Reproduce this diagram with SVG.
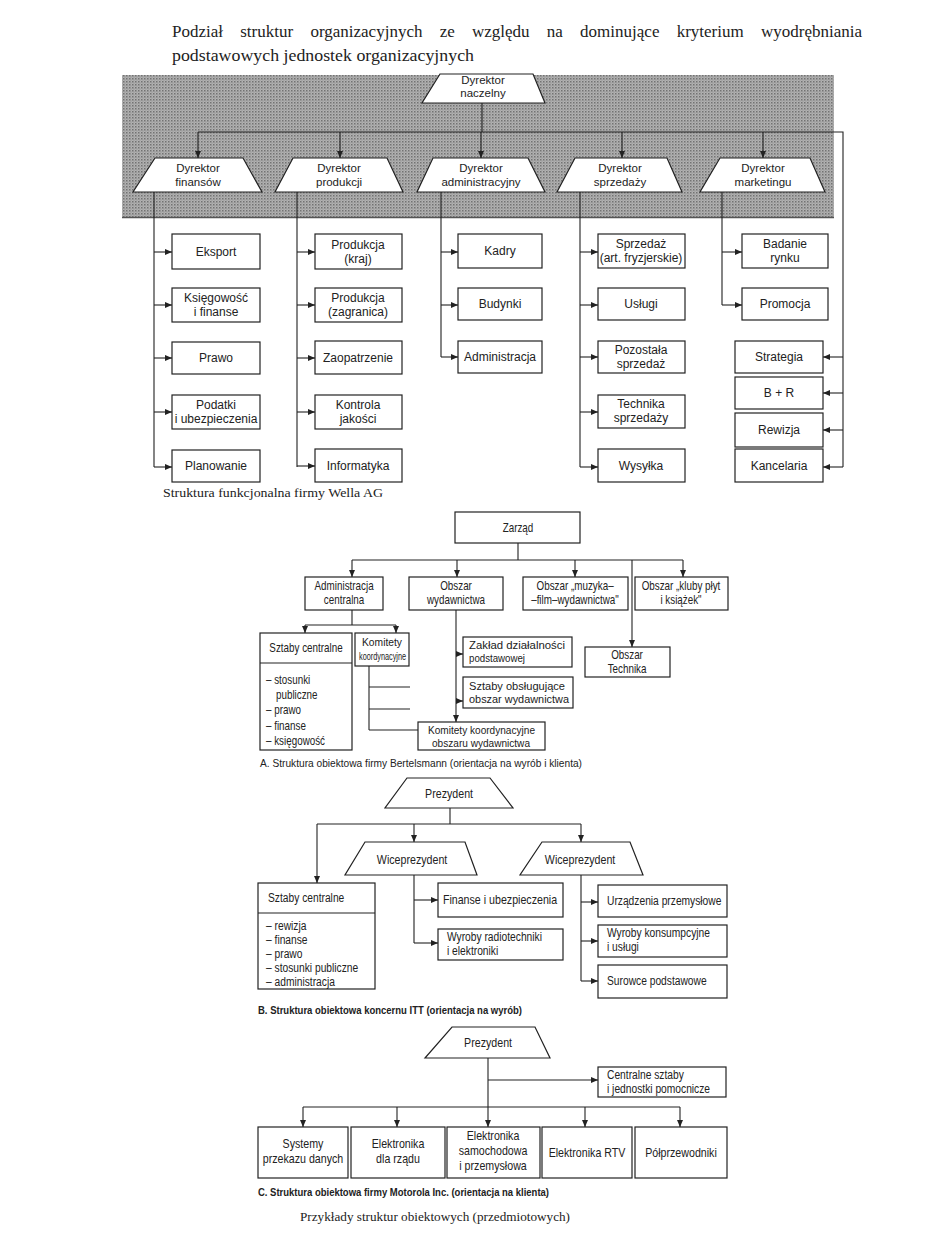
<svg xmlns="http://www.w3.org/2000/svg" width="935" height="1256" viewBox="0 0 935 1256">
<defs>
<pattern id="ht" width="3" height="3" patternUnits="userSpaceOnUse">
<rect width="3" height="3" fill="#b2b2b2"/>
<rect x="0" y="0" width="1.5" height="1.5" fill="#727272"/>
<rect x="1.5" y="1.5" width="1" height="1" fill="#888"/>
</pattern>
<marker id="ah" markerWidth="7" markerHeight="6" refX="7" refY="3" orient="auto" markerUnits="userSpaceOnUse">
<path d="M0,0 L7,3 L0,6 z" fill="#222"/>
</marker>
<style>
.b{fill:#fff;stroke:#222;stroke-width:1.2}
.c{fill:none;stroke:#222;stroke-width:1.1}
.a{fill:none;stroke:#222;stroke-width:1.1;marker-end:url(#ah)}
.t{font-family:"Liberation Sans",Arial,sans-serif;font-size:12px;fill:#222;text-anchor:middle}
.d{font-family:"Liberation Sans",Arial,sans-serif;font-size:11.5px;fill:#222;text-anchor:middle}
.n,.nl,.m,.ml{font-family:"Liberation Sans",Arial,sans-serif;fill:#222;transform-box:fill-box;transform:scaleX(0.82)}
.n{font-size:12px;text-anchor:middle;transform-origin:center}
.nl{font-size:12px;transform-origin:left center}
.m{font-size:13px;text-anchor:middle;transform-origin:center}
.ml{font-size:12.5px;transform-origin:left center}
.w{font-family:"Liberation Sans",Arial,sans-serif;font-size:11.5px;fill:#222}
.cap{font-family:"Liberation Sans",Arial,sans-serif;font-size:11px;fill:#222}
.s{font-family:"Liberation Serif","Times New Roman",serif;fill:#222}
</style>
</defs>
<rect width="935" height="1256" fill="#fff"/>

<!-- Title -->
<text class="s" x="172" y="37" font-size="17" word-spacing="13" textLength="690" lengthAdjust="spacing">Podział struktur organizacyjnych ze względu na dominujące kryterium wyodrębniania</text>
<text class="s" x="172" y="61" font-size="17" textLength="302" lengthAdjust="spacingAndGlyphs">podstawowych jednostek organizacyjnych</text>

<!-- Gray band -->
<rect x="122" y="75" width="712" height="143" fill="url(#ht)"/>
<line x1="122" y1="217.5" x2="834" y2="217.5" stroke="#555" stroke-width="1.5"/>

<!-- Connectors -->
<g id="connectors">
<!-- Wella -->
<path class="c" d="M482,103 V132 M198,132 H843 V467"/>
<path class="a" d="M198,132 V158"/>
<path class="a" d="M340,132 V158"/>
<path class="a" d="M481,132 V158"/>
<path class="a" d="M622,132 V158"/>
<path class="a" d="M763,132 V158"/>
<path class="c" d="M154,192 V467 M297,192 V467 M441,192 V357 M580,192 V467 M722,192 V305"/>
<path class="a" d="M154,252 H172"/><path class="a" d="M154,305 H172"/><path class="a" d="M154,358 H172"/><path class="a" d="M154,412 H172"/><path class="a" d="M154,467 H172"/>
<path class="a" d="M297,252 H315"/><path class="a" d="M297,305 H315"/><path class="a" d="M297,358 H315"/><path class="a" d="M297,412 H315"/><path class="a" d="M297,466 H315"/>
<path class="a" d="M441,252 H458"/><path class="a" d="M441,305 H458"/><path class="a" d="M441,357 H458"/>
<path class="a" d="M580,252 H598"/><path class="a" d="M580,305 H598"/><path class="a" d="M580,357 H598"/><path class="a" d="M580,412 H598"/><path class="a" d="M580,467 H598"/>
<path class="a" d="M722,252 H742"/><path class="a" d="M722,305 H742"/>
<path class="a" d="M843,357 H823"/><path class="a" d="M843,393 H823"/><path class="a" d="M843,430 H823"/><path class="a" d="M843,467 H823"/>
<!-- Bertelsmann -->
<path class="c" d="M518,543 V560 M352,560 H683"/>
<path class="a" d="M352,560 V577"/><path class="a" d="M457,560 V577"/><path class="a" d="M575,560 V577"/><path class="a" d="M683,560 V577"/>
<path class="a" d="M632,560 V647"/>
<path class="c" d="M352,610 V625 M305,625 H396"/>
<path class="a" d="M305,625 V633"/><path class="a" d="M396,625 V633"/>
<path class="a" d="M456,610 V722"/>
<path class="a" d="M456,654 H463"/><path class="a" d="M456,701 H463"/>
<path class="c" d="M369,666 V730 M369,687 H410 M369,709 H410 M369,730 H418"/>
<!-- ITT -->
<path class="c" d="M450,808 V824 M317,824 H581"/>
<path class="a" d="M317,824 V883"/><path class="a" d="M414,824 V842"/><path class="a" d="M581,824 V842"/>
<path class="c" d="M414,875 V943 M581,875 V981"/>
<path class="a" d="M414,900 H438"/><path class="a" d="M414,943 H438"/>
<path class="a" d="M581,902 H598"/><path class="a" d="M581,941 H598"/><path class="a" d="M581,981 H598"/>
<!-- Motorola -->
<path class="a" d="M488,1058 V1127"/>
<path class="a" d="M488,1080 H598"/>
<path class="c" d="M303,1107 H680"/>
<path class="a" d="M303,1107 V1127"/><path class="a" d="M397,1107 V1127"/><path class="a" d="M585,1107 V1127"/><path class="a" d="M680,1107 V1127"/>
</g>

<!-- Wella nodes -->
<g id="dyr-naczelny"><polygon class="b" points="440,74 533,74 545,103 422,103"/><text class="d" x="483" y="84">Dyrektor</text><text class="d" x="483" y="97">naczelny</text></g>
<g id="dyr-finansow"><polygon class="b" points="155,158 243,158 262,192 133,192"/><text class="d" x="198" y="172">Dyrektor</text><text class="d" x="198" y="186">finansów</text></g>
<g id="dyr-produkcji"><polygon class="b" points="293,158 387,158 403,192 275,192"/><text class="d" x="339" y="172">Dyrektor</text><text class="d" x="339" y="186">produkcji</text></g>
<g id="dyr-admin"><polygon class="b" points="433,158 528,158 545,192 417,192"/><text class="d" x="481" y="172">Dyrektor</text><text class="d" x="481" y="186">administracyjny</text></g>
<g id="dyr-sprzedazy"><polygon class="b" points="575,158 667,158 682,192 557,192"/><text class="d" x="620" y="172">Dyrektor</text><text class="d" x="620" y="186">sprzedaży</text></g>
<g id="dyr-marketingu"><polygon class="b" points="720,158 810,158 825,192 700,192"/><text class="d" x="763" y="172">Dyrektor</text><text class="d" x="763" y="186">marketingu</text></g>

<g id="eksport"><rect class="b" x="172" y="234" width="88" height="35"/><text class="t" x="216" y="256">Eksport</text></g>
<g id="ksiegowosc"><rect class="b" x="172" y="288" width="88" height="34"/><text class="t" x="216" y="302">Księgowość</text><text class="t" x="216" y="316">i finanse</text></g>
<g id="prawo"><rect class="b" x="172" y="342" width="88" height="32"/><text class="t" x="216" y="362">Prawo</text></g>
<g id="podatki"><rect class="b" x="172" y="395" width="88" height="34"/><text class="t" x="216" y="409">Podatki</text><text class="t" x="216" y="423">i ubezpieczenia</text></g>
<g id="planowanie"><rect class="b" x="172" y="450" width="88" height="32"/><text class="t" x="216" y="470">Planowanie</text></g>

<g id="prod-kraj"><rect class="b" x="315" y="234" width="87" height="35"/><text class="t" x="358" y="249">Produkcja</text><text class="t" x="358" y="263">(kraj)</text></g>
<g id="prod-zagr"><rect class="b" x="315" y="288" width="87" height="34"/><text class="t" x="358" y="302">Produkcja</text><text class="t" x="358" y="316">(zagranica)</text></g>
<g id="zaopatrzenie"><rect class="b" x="315" y="341" width="87" height="33"/><text class="t" x="358" y="362">Zaopatrzenie</text></g>
<g id="kontrola"><rect class="b" x="315" y="395" width="87" height="34"/><text class="t" x="358" y="409">Kontrola</text><text class="t" x="358" y="423">jakości</text></g>
<g id="informatyka"><rect class="b" x="315" y="449" width="87" height="33"/><text class="t" x="358" y="470">Informatyka</text></g>

<g id="kadry"><rect class="b" x="458" y="234" width="84" height="34"/><text class="t" x="500" y="255">Kadry</text></g>
<g id="budynki"><rect class="b" x="458" y="288" width="84" height="32"/><text class="t" x="500" y="308">Budynki</text></g>
<g id="administracja"><rect class="b" x="458" y="341" width="84" height="32"/><text class="t" x="500" y="361">Administracja</text></g>

<g id="sprzedaz"><rect class="b" x="598" y="234" width="87" height="34"/><text class="t" x="641" y="248">Sprzedaż</text><text class="t" x="641" y="262">(art. fryzjerskie)</text></g>
<g id="uslugi"><rect class="b" x="598" y="288" width="87" height="32"/><text class="t" x="641" y="308">Usługi</text></g>
<g id="pozostala"><rect class="b" x="598" y="341" width="87" height="32"/><text class="t" x="641" y="354">Pozostała</text><text class="t" x="641" y="368">sprzedaż</text></g>
<g id="technika"><rect class="b" x="598" y="395" width="87" height="33"/><text class="t" x="641" y="408">Technika</text><text class="t" x="641" y="422">sprzedaży</text></g>
<g id="wysylka"><rect class="b" x="598" y="449" width="87" height="33"/><text class="t" x="641" y="470">Wysyłka</text></g>

<g id="badanie"><rect class="b" x="742" y="234" width="86" height="34"/><text class="t" x="785" y="248">Badanie</text><text class="t" x="785" y="262">rynku</text></g>
<g id="promocja"><rect class="b" x="742" y="288" width="86" height="32"/><text class="t" x="785" y="308">Promocja</text></g>
<g id="strategia"><rect class="b" x="735" y="341" width="88" height="32"/><text class="t" x="779" y="361">Strategia</text></g>
<g id="bir"><rect class="b" x="735" y="377" width="88" height="32"/><text class="t" x="779" y="397">B + R</text></g>
<g id="rewizja"><rect class="b" x="735" y="413" width="88" height="34"/><text class="t" x="779" y="434">Rewizja</text></g>
<g id="kancelaria"><rect class="b" x="735" y="449" width="88" height="33"/><text class="t" x="779" y="470">Kancelaria</text></g>

<text class="s" x="163" y="497" font-size="11.5" textLength="220" lengthAdjust="spacingAndGlyphs">Struktura funkcjonalna firmy Wella AG</text>

<!-- Bertelsmann -->
<g id="zarzad"><rect class="b" x="455" y="512" width="125" height="31"/><text class="n" x="518" y="532">Zarząd</text></g>
<g id="admin-centralna"><rect class="b" x="305" y="577" width="78" height="33"/><text class="n" x="344" y="590">Administracja</text><text class="n" x="344" y="604">centralna</text></g>
<g id="obszar-wyd"><rect class="b" x="409" y="577" width="94" height="33"/><text class="n" x="456" y="590">Obszar</text><text class="n" x="456" y="604">wydawnictwa</text></g>
<g id="obszar-muzyka"><rect class="b" x="523" y="577" width="105" height="33"/><text class="n" x="575" y="590">Obszar „muzyka–</text><text class="n" x="575" y="604">–film–wydawnictwa"</text></g>
<g id="obszar-kluby"><rect class="b" x="635" y="577" width="93" height="33"/><text class="n" x="681" y="590">Obszar „kluby płyt</text><text class="n" x="681" y="604">i książek"</text></g>
<g id="obszar-technika"><rect class="b" x="585" y="647" width="85" height="30"/><text class="n" x="627" y="659">Obszar</text><text class="n" x="627" y="673">Technika</text></g>
<g id="sztaby-centralne-a"><rect class="b" x="260" y="633" width="92" height="117"/><line class="c" x1="260" y1="663" x2="352" y2="663"/>
<text class="n" x="306" y="652">Sztaby centralne</text>
<text class="nl" x="266" y="684">– stosunki</text><text class="nl" x="276" y="699">publiczne</text><text class="nl" x="266" y="714">– prawo</text><text class="nl" x="266" y="730">– finanse</text><text class="nl" x="266" y="745">– księgowość</text></g>
<g id="komitety"><rect class="b" x="355" y="633" width="54" height="33"/><text class="w" x="362" y="646" textLength="40" lengthAdjust="spacingAndGlyphs">Komitety</text><text class="w" x="359" y="660" textLength="47" lengthAdjust="spacingAndGlyphs">koordynacyjne</text></g>
<g id="zaklad"><rect class="b" x="463" y="637" width="109" height="30"/><text class="w" x="469" y="649" textLength="96" lengthAdjust="spacingAndGlyphs">Zakład działalności</text><text class="w" x="469" y="662" textLength="56" lengthAdjust="spacingAndGlyphs">podstawowej</text></g>
<g id="sztaby-obsl"><rect class="b" x="463" y="677" width="110" height="31"/><text class="w" x="469" y="690" textLength="96" lengthAdjust="spacingAndGlyphs">Sztaby obsługujące</text><text class="w" x="469" y="703" textLength="100" lengthAdjust="spacingAndGlyphs">obszar wydawnictwa</text></g>
<g id="komitety-obszaru"><rect class="b" x="418" y="722" width="127" height="28"/><text class="w" x="428" y="734" textLength="107" lengthAdjust="spacingAndGlyphs">Komitety koordynacyjne</text><text class="w" x="432" y="747" textLength="98" lengthAdjust="spacingAndGlyphs">obszaru wydawnictwa</text></g>
<text class="cap" x="260" y="767" textLength="322" lengthAdjust="spacingAndGlyphs">A. Struktura obiektowa firmy Bertelsmann (orientacja na wyrób i klienta)</text>

<!-- ITT -->
<g id="prezydent-b"><polygon class="b" points="407,778 490,778 513,808 385,808"/><text class="m" x="449" y="798">Prezydent</text></g>
<g id="wice-1"><polygon class="b" points="365,842 465,842 477,875 345,875"/><text class="m" x="412" y="864">Wiceprezydent</text></g>
<g id="wice-2"><polygon class="b" points="542,842 630,842 643,875 520,875"/><text class="m" x="580" y="864">Wiceprezydent</text></g>
<g id="sztaby-centralne-b"><rect class="b" x="258" y="883" width="117" height="106"/><line class="c" x1="258" y1="913" x2="375" y2="913"/>
<text class="ml" x="268" y="902" font-size="13">Sztaby centralne</text>
<text class="ml" x="266" y="930">– rewizja</text><text class="ml" x="266" y="944">– finanse</text><text class="ml" x="266" y="958">– prawo</text><text class="ml" x="266" y="972">– stosunki publiczne</text><text class="ml" x="266" y="986">– administracja</text></g>
<g id="finanse-ubezp"><rect class="b" x="438" y="883" width="125" height="34"/><text class="m" x="500" y="904" font-size="12.5">Finanse i ubezpieczenia</text></g>
<g id="wyroby-radio"><rect class="b" x="438" y="929" width="125" height="31"/><text class="ml" x="447" y="941">Wyroby radiotechniki</text><text class="ml" x="447" y="955">i elektroniki</text></g>
<g id="urzadzenia"><rect class="b" x="598" y="885" width="129" height="32"/><text class="ml" x="607" y="905">Urządzenia przemysłowe</text></g>
<g id="wyroby-kons"><rect class="b" x="598" y="925" width="129" height="32"/><text class="ml" x="607" y="937">Wyroby konsumpcyjne</text><text class="ml" x="607" y="951">i usługi</text></g>
<g id="surowce"><rect class="b" x="598" y="965" width="129" height="33"/><text class="ml" x="607" y="985">Surowce podstawowe</text></g>
<text class="cap" x="258" y="1014" font-weight="bold" textLength="264" lengthAdjust="spacingAndGlyphs">B. Struktura obiektowa koncernu ITT (orientacja na wyrób)</text>

<!-- Motorola -->
<g id="prezydent-c"><polygon class="b" points="452,1027 535,1027 550,1058 425,1058"/><text class="m" x="488" y="1047">Prezydent</text></g>
<g id="centralne-sztaby"><rect class="b" x="598" y="1067" width="128" height="30"/><text class="ml" x="607" y="1079">Centralne sztaby</text><text class="ml" x="607" y="1093">i jednostki pomocnicze</text></g>
<g id="systemy"><rect class="b" x="258" y="1127" width="90" height="51"/><text class="m" x="303" y="1148" font-size="12.5">Systemy</text><text class="m" x="303" y="1163" font-size="12.5">przekazu danych</text></g>
<g id="elektronika-rzad"><rect class="b" x="351" y="1127" width="94" height="51"/><text class="m" x="398" y="1148" font-size="12.5">Elektronika</text><text class="m" x="398" y="1163" font-size="12.5">dla rządu</text></g>
<g id="elektronika-sam"><rect class="b" x="447" y="1127" width="93" height="51"/><text class="m" x="493" y="1140" font-size="12.5">Elektronika</text><text class="m" x="493" y="1155" font-size="12.5">samochodowa</text><text class="m" x="493" y="1170" font-size="12.5">i przemysłowa</text></g>
<g id="elektronika-rtv"><rect class="b" x="542" y="1127" width="90" height="51"/><text class="m" x="587" y="1157" font-size="12.5">Elektronika RTV</text></g>
<g id="polprzewodniki"><rect class="b" x="635" y="1127" width="92" height="51"/><text class="m" x="681" y="1157" font-size="12.5">Półprzewodniki</text></g>
<text class="cap" x="258" y="1196" font-weight="bold" textLength="291" lengthAdjust="spacingAndGlyphs">C. Struktura obiektowa firmy Motorola Inc. (orientacja na klienta)</text>

<text class="s" x="300" y="1221" font-size="12.5" textLength="270" lengthAdjust="spacingAndGlyphs">Przykłady struktur obiektowych (przedmiotowych)</text>
</svg>
